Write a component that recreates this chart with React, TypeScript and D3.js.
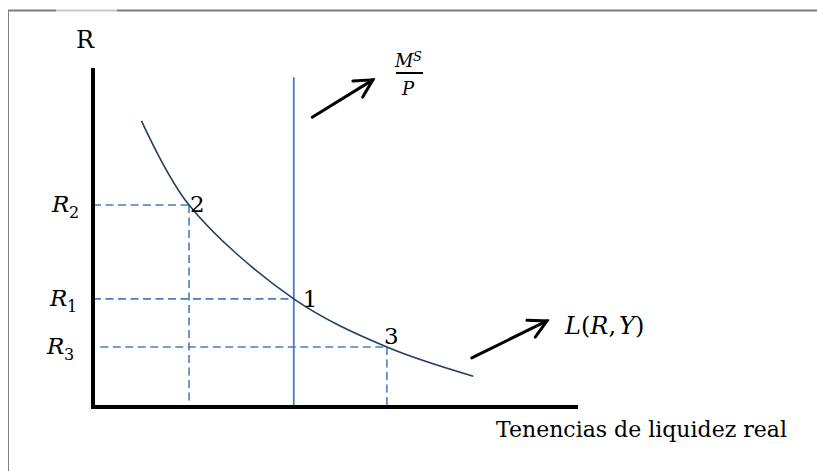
import React from "react";
import * as d3 from "d3";

// Demand curve L(R,Y) points (data units)
const curveX = [10, 19.8, 41.4, 60.6, 78.4];
const curveY = [84.4, 59.6, 31.9, 17.7, 9.1];

// Equilibrium points
const pointNames = ["2", "1", "3"];
const pointX = [19.8, 41.4, 60.6];
const pointY = [59.6, 31.9, 17.7];
const rateLabels = ["2", "1", "3"]; // subscripts of R

// Money supply line
const msX = 41.4;
const msTop = 97.3;

// Arrows [x0,y0,x1,y1]
const arrowMs = [45.2, 85.5, 57.7, 96.5];
const arrowL = [78.1, 14.5, 93.6, 25.4];

const W = 817;
const H = 471;

export default function App() {
  const x = d3.scaleLinear().domain([0, 100]).range([93, 578]);
  const y = d3.scaleLinear().domain([0, 100]).range([407, 68]);

  const pts: [number, number][] = curveX.map((v, i) => [x(v), y(curveY[i])]);
  const line = d3.line().curve(d3.curveCatmullRom.alpha(0.5));
  const curvePath = line(pts) || "";

  const blue = "#4a7ebb";
  const dash = "8,4.5";

  const arrow = (a: number[], key: string) => {
    const x0 = x(a[0]), y0 = y(a[1]), x1 = x(a[2]), y1 = y(a[3]);
    const ang = Math.atan2(y1 - y0, x1 - x0);
    const len = 20;
    const spread = (28 * Math.PI) / 180;
    const hx1 = x1 - len * Math.cos(ang - spread);
    const hy1 = y1 - len * Math.sin(ang - spread);
    const hx2 = x1 - len * Math.cos(ang + spread);
    const hy2 = y1 - len * Math.sin(ang + spread);
    return (
      <g key={key} stroke="#000" strokeWidth={3} fill="none" strokeLinecap="round" strokeLinejoin="miter">
        <path d={`M${x0},${y0}L${x1},${y1}`} />
        <path d={`M${hx1},${hy1}L${x1},${y1}L${hx2},${hy2}`} />
      </g>
    );
  };

  const serif = "'DejaVu Serif', 'Liberation Serif', serif";

  // label offsets for point numbers
  const numOffsets: [number, number][] = [
    [1, 7],
    [9, 8],
    [-3, -3],
  ];

  return (
    <svg
      width={W}
      height={H}
      viewBox={`0 0 ${W} ${H}`}
      style={{ position: "fixed", left: 0, top: 0, background: "#fff" }}
    >
      <rect x={0} y={0} width={W} height={H} fill="#fff" />
      {/* frame */}
      <line x1={8} y1={10.5} x2={56} y2={10.5} stroke="#7f7f7f" strokeWidth={2} />
      <line x1={56} y1={10.5} x2={117} y2={10.5} stroke="#c8c8c8" strokeWidth={2} />
      <line x1={117} y1={10.5} x2={W} y2={10.5} stroke="#7f7f7f" strokeWidth={2} />
      <line x1={8.5} y1={10} x2={8.5} y2={H} stroke="#808080" strokeWidth={1} />

      {/* dashed guides */}
      {pointX.map((px, i) => (
        <g key={"g" + i} stroke={blue} strokeWidth={1.6} strokeDasharray={dash} fill="none">
          <line x1={x(i === 2 ? 1.5 : 0)} y1={y(pointY[i])} x2={x(px)} y2={y(pointY[i])} />
          {i !== 1 && <line x1={x(px)} y1={y(pointY[i])} x2={x(px)} y2={y(0)} />}
        </g>
      ))}

      {/* money supply */}
      <line x1={x(msX)} y1={y(msTop)} x2={x(msX)} y2={y(0)} stroke={blue} strokeWidth={1.8} />

      {/* demand curve */}
      <path d={curvePath} fill="none" stroke="#243f60" strokeWidth={1.6} />

      {/* axes */}
      <path d={`M${x(0)},${y(100)}V${y(0)}H${x(100)}`} fill="none" stroke="#000" strokeWidth={4} />

      {/* arrows */}
      {arrow(arrowMs, "am")}
      {arrow(arrowL, "al")}

      {/* texts */}
      <text x={76} y={48} fontFamily={serif} fontSize={24} fill="#000">R</text>

      {pointY.map((py, i) => (
        <g key={"r" + i} fontFamily={serif} fill="#000">
          <text x={[52, 50, 47][i]} y={y(py) + 7} fontSize={23} fontStyle="italic">R</text>
          <text x={[52, 50, 47][i] + 17} y={y(py) + 13} fontSize={16}>{rateLabels[i]}</text>
        </g>
      ))}

      {pointX.map((px, i) => (
        <text
          key={"n" + i}
          x={x(px) + numOffsets[i][0]}
          y={y(pointY[i]) + numOffsets[i][1]}
          fontFamily={serif}
          fontSize={23}
          fill="#000"
        >
          {pointNames[i]}
        </text>
      ))}

      {/* M^S / P */}
      <text x={395} y={67} fontFamily={serif} fontSize={18} fontStyle="italic">M</text>
      <text x={413} y={61} fontFamily={serif} fontSize={13} fontStyle="italic">S</text>
      <line x1={396} y1={73} x2={423} y2={73} stroke="#000" strokeWidth={2} />
      <text x={402} y={95} fontFamily={serif} fontSize={18} fontStyle="italic">P</text>

      {/* L(R,Y) */}
      <text x={565} y={334} fontFamily={serif} fontSize={24} fill="#000">
        <tspan fontStyle="italic">L</tspan>
        <tspan>(</tspan>
        <tspan fontStyle="italic">R</tspan>
        <tspan>,</tspan>
        <tspan dx={3} fontStyle="italic">Y</tspan>
        <tspan>)</tspan>
      </text>

      <text x={496} y={437} fontFamily={serif} fontSize={22} fill="#000">
        Tenencias de liquidez real
      </text>
    </svg>
  );
}
